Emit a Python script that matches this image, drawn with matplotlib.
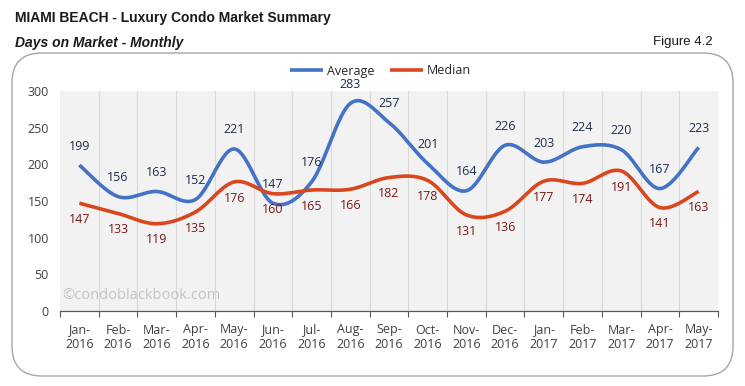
import numpy as np
import matplotlib
matplotlib.use("Agg")
import matplotlib.pyplot as plt
from matplotlib.patches import FancyBboxPatch

months = ["Jan-\n2016", "Feb-\n2016", "Mar-\n2016", "Apr-\n2016", "May-\n2016", "Jun-\n2016",
          "Jul-\n2016", "Aug-\n2016", "Sep-\n2016", "Oct-\n2016", "Nov-\n2016", "Dec-\n2016",
          "Jan-\n2017", "Feb-\n2017", "Mar-\n2017", "Apr-\n2017", "May-\n2017"]
average = [199, 156, 163, 152, 221, 147, 176, 283, 257, 201, 164, 226, 203, 224, 220, 167, 223]
median = [147, 133, 119, 135, 176, 160, 165, 166, 182, 178, 131, 136, 177, 174, 191, 141, 163]


def smooth(x, y, n=30):
    x = np.asarray(x, float); y = np.asarray(y, float)
    P = np.column_stack([x, y])
    out = []
    for i in range(len(P) - 1):
        p0 = P[i - 1] if i > 0 else P[i]
        p1 = P[i]; p2 = P[i + 1]
        p3 = P[i + 2] if i + 2 < len(P) else P[i + 1]
        c1 = p1 + (p2 - p0) / 6.0
        c2 = p2 - (p3 - p1) / 6.0
        t = np.linspace(0, 1, n)[:, None]
        seg = (1 - t) ** 3 * p1 + 3 * (1 - t) ** 2 * t * c1 + 3 * (1 - t) * t ** 2 * c2 + t ** 3 * p2
        out.append(seg if i == 0 else seg[1:])
    s = np.vstack(out)
    return s[:, 0], s[:, 1]


W, H = 745, 386
fig = plt.figure(figsize=(W / 100, H / 100), dpi=100)
fig.patch.set_facecolor("white")

# rounded frame
frame = FancyBboxPatch((12 / W, 10 / H), 721 / W, 323 / H,
                       boxstyle="round,pad=0,rounding_size=0.04",
                       transform=fig.transFigure, facecolor="none",
                       edgecolor="#a6a6a6", linewidth=1.0, mutation_aspect=W / H, zorder=-1)
fig.patches.append(frame)

left, right, top, bottom = 60, 718, 91, 311
ax = fig.add_axes([left / W, 1 - bottom / H, (right - left) / W, (bottom - top) / H])
ax.set_facecolor("#f2f2f2")
x = np.arange(len(months))
ax.set_xlim(-0.5, len(months) - 0.5)
ax.set_ylim(0, 300)

for b in np.arange(-0.5, len(months) + 0.5, 1.0)[1:]:
    ax.axvline(b, color="#d9d9d9", lw=0.8, zorder=1)

blue = "#4472c4"
red = "#d9471f"
sx, sy = smooth(x, average)
ax.plot(sx, sy, color=blue, lw=2.6, solid_capstyle="butt", zorder=3, label="Average")
sx, sy = smooth(x, median)
ax.plot(sx, sy, color=red, lw=2.6, solid_capstyle="butt", zorder=3, label="Median")

lfont = "Open Sans"
fs = 9
for xi, v in zip(x, average):
    ax.annotate(str(v), (xi, v), xytext=(0, 9), textcoords="offset points",
                ha="center", va="bottom", fontsize=fs, color="#1f2d4d", family=lfont, zorder=4)
for xi, v in zip(x, median):
    ax.annotate(str(v), (xi, v), xytext=(0, -7), textcoords="offset points",
                ha="center", va="top", fontsize=fs, color="#7b1a1a", family=lfont, zorder=4)

for s in ["top", "right", "left"]:
    ax.spines[s].set_visible(False)
ax.spines["bottom"].set_color("#595959")
ax.spines["bottom"].set_linewidth(0.9)

ax.set_yticks(np.arange(0, 301, 50))
ax.tick_params(axis="y", length=0, pad=8, labelsize=fs, labelcolor="#404040")
ax.set_xticks(np.arange(-0.5, len(months), 1.0))
ax.set_xticklabels([])
ax.set_xticks(x, minor=True)
ax.set_xticklabels(months, minor=True)
ax.tick_params(axis="x", which="major", length=4, color="#595959", direction="out")
ax.tick_params(axis="x", which="minor", length=0, pad=9, labelsize=fs, labelcolor="#404040")
for t in ax.get_yticklabels() + ax.get_xticklabels(minor=True):
    t.set_family(lfont)

ax.text(0.004, 0.035, "©condoblackbook.com", transform=ax.transAxes, fontsize=10.5,
        color="#c4c4c4", family=lfont, ha="left", va="bottom", zorder=2)

leg = ax.legend(loc="center", bbox_to_anchor=(0.487, 1 + 20 / 220), ncol=2, frameon=False,
                prop={"family": lfont, "size": fs}, handlelength=2.6, columnspacing=1.3,
                handletextpad=0.3, borderaxespad=0.0)
for t in leg.get_texts():
    t.set_color("#262626")

fig.text(15 / W, 1 - 18 / H, "MIAMI BEACH - Luxury Condo Market Summary", fontsize=10,
         fontweight="bold", family="Liberation Sans", va="center", ha="left", color="#1a1a1a")
fig.text(15 / W, 1 - 43 / H, "Days on Market - Monthly", fontsize=10, fontweight="bold",
         style="italic", family="Liberation Sans", va="center", ha="left", color="#1a1a1a")
fig.text(713 / W, 1 - 42 / H, "Figure 4.2", fontsize=9.5, family="Liberation Sans",
         va="center", ha="right", color="#1a1a1a")

fig.savefig("out.png", dpi=100)
